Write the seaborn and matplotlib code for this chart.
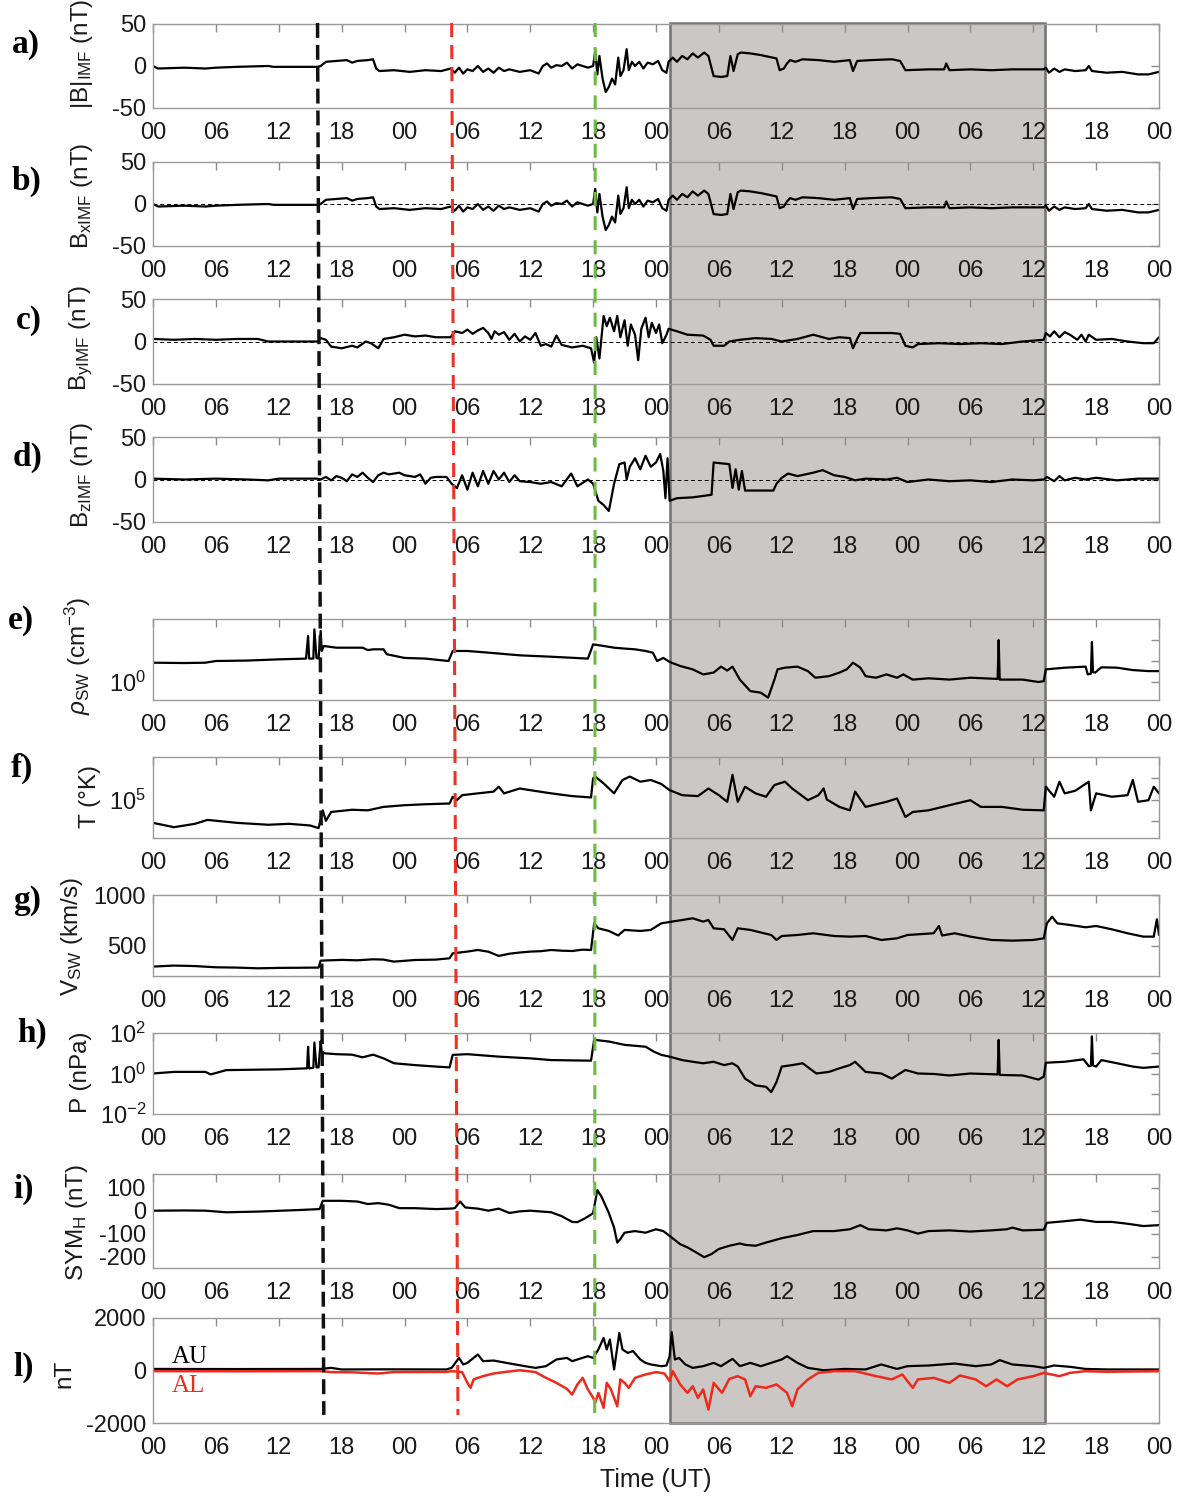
import numpy as np
import pandas as pd
import matplotlib
matplotlib.use("Agg")
import matplotlib.pyplot as plt
from matplotlib.patches import Rectangle
from matplotlib.lines import Line2D
from matplotlib.transforms import blended_transform_factory
from matplotlib.ticker import LogLocator, NullFormatter, NullLocator
import seaborn as sns

# time axis: hours from 00 UT of the first day (4 days shown)
hour_ticks = list(range(0, 97, 6))
hour_labels = ['00', '06', '12', '18'] * 4 + ['00']

# event markers (top / bottom of the dashed line, hours) and shaded interval
event_top_h = [15.7, 28.5, 42.2]
event_bottom_h = [16.3, 29.1, 42.15]
event_colors = ['#111111', '#ee3224', '#6cbd3f']
shade_start_h, shade_end_h = 49.3, 85.1

# (hour, nT) -- IMF Bx (also shown in panel a)
bx_imf = [(0, 0), (0.5, -3), (3, -2), (5, -3), (6, -2), (8, -1), (11, 0), (11.5, -1), (15.7, -1), (16, 0),
          (16.5, 5), (17.5, 6), (18.5, 7), (19, 4), (19.5, 6), (20.5, 7), (21, 8), (21.3, -3), (21.6, -6),
          (23, -5), (24.5, -7), (26, -5), (27.5, -6), (28.4, -3), (28.8, -8), (29.2, -2), (29.6, -9), (30, -4),
          (30.5, -6), (31, 0), (31.5, -7), (32, -3), (32.5, -8), (33, -2), (33.5, -6), (34, -4), (35, -7),
          (36, -5), (36.8, -9), (37.2, 0), (37.6, 3), (38, -2), (38.5, 1), (39, 0), (39.5, 4), (40, -3),
          (40.5, 2), (41, 0), (41.5, -2), (42, 0), (42.2, 18), (42.4, -10), (42.6, 12), (42.9, -15),
          (43.2, -31), (43.5, -25), (43.8, -15), (44.1, -22), (44.4, 10), (44.6, -12), (44.9, -5), (45.2, 20),
          (45.4, -5), (45.7, 5), (46, 0), (46.4, 5), (46.8, -3), (47.2, 4), (47.7, 2), (48.2, 6), (48.6, -5),
          (49, -8), (49.2, 5), (49.6, 10), (50, 5), (50.5, 12), (51, 8), (51.5, 15), (52, 10), (52.6, 16),
          (53, 12), (53.5, -12), (54.2, -13), (54.8, -12), (55.1, 12), (55.4, -6), (55.8, 14), (56.1, 16),
          (57, 15), (58, 13), (59.5, 9), (59.8, -5), (60.2, -3), (60.5, 3), (60.8, 7), (61.3, 5), (62, 8),
          (63.5, 7), (65, 5), (66.5, 7), (66.8, -6), (67.2, 6), (68.5, 7), (70.5, 8), (71.3, 6), (71.8, -5),
          (74, -4), (75.5, -4), (75.7, 3), (76, -5), (78, -4), (80, -5), (82, -4), (85, -4), (85.2, -2),
          (85.5, -8), (86, -3), (86.5, -7), (87, -4), (88, -6), (89, -5), (89.3, 0), (89.6, -6), (91, -8),
          (92.5, -7), (94, -10), (95, -10), (96, -7)]

# (hour, nT) -- IMF By
by_imf = [(0, 3), (2, 2), (4, 3), (6, 2), (8, 3), (10, 3), (11, 0), (13, 0), (15.7, 0), (16, 4), (16.5, 2),
          (17, -6), (18, -8), (19, -5), (19.5, -7), (20.3, 0), (20.8, -2), (21.5, -8), (22, 3), (23, 5),
          (24, 8), (25, 6), (26, 7), (27, 5), (28.4, 5), (28.8, 12), (29.5, 10), (30, 14), (30.5, 9), (31, 13),
          (31.5, 16), (32, 10), (32.3, 3), (32.6, 12), (33, 8), (33.5, 11), (34, 2), (34.5, 9), (35, 0),
          (35.5, 6), (36, 2), (36.5, 10), (37, -5), (37.5, -3), (38, -6), (38.5, 7), (39, -4), (40, -7),
          (41, -5), (41.8, -8), (42.1, -25), (42.3, 5), (42.6, -20), (43, 30), (43.3, 18), (43.6, 28),
          (44, 12), (44.3, 30), (44.6, 5), (45, 25), (45.3, -5), (45.6, 20), (46, 8), (46.3, -22), (46.6, 15),
          (47, 28), (47.3, 5), (47.6, 22), (48, 10), (48.3, 20), (48.6, -2), (49, 8), (49.2, 15), (50, 12),
          (51, 8), (52.5, 7), (53.2, 2), (53.5, -5), (54.5, -5), (55, 0), (56, 2), (57.5, 4), (59, 3),
          (60, 0), (61.5, 3), (63, 8), (64.5, 3), (65.5, 5), (66.5, 4), (66.8, -8), (67.2, 3), (67.5, 10),
          (69, 10), (70.5, 10), (71.3, 9), (71.8, -5), (72.5, -7), (73, -3), (75, -2), (77, -3), (79, -2),
          (81, -3), (83, 0), (85, 2), (85.2, 10), (85.6, 6), (86, 12), (86.5, 5), (87, 11), (87.5, 8),
          (88.2, 2), (88.6, 8), (89, 0), (89.3, 8), (90, 2), (91.5, 3), (93, 0), (94.5, -2), (95.5, -2),
          (96, 5)]

# (hour, nT) -- IMF Bz
bz_imf = [(0, 1), (3, 0), (6, 1), (9, 0), (11, -1), (12, 1), (15.7, 1), (16, 0), (16.5, 3), (17, -1),
          (17.5, 4), (18, 2), (18.5, -2), (19, 6), (19.5, 3), (20, 8), (20.5, 2), (21, -3), (21.5, 5), (22, 8),
          (22.5, 6), (23.5, 8), (24, 5), (25, 3), (25.5, 6), (26, -5), (26.5, 2), (27, 3), (28, 3),
          (28.5, -5), (29, -10), (29.5, 5), (30, -12), (30.5, 8), (31, -8), (31.5, 10), (32, -5), (32.5, 10),
          (33, 0), (33.5, 8), (34, -3), (34.5, 5), (35, -2), (36, -3), (37, -5), (38, -3), (39, -8),
          (39.9, 7), (40.5, -8), (41.5, 0), (42, -5), (42.5, -25), (43, -30), (43.5, -37), (44, -5),
          (44.5, 18), (45, 20), (45.2, 0), (45.5, 15), (46, 25), (46.5, 12), (47, 28), (47.5, 15), (48, 20),
          (48.4, 30), (48.7, 10), (48.9, -22), (49.1, 25), (49.3, -25), (50, -22), (51.5, -21), (53.3, -18),
          (53.5, 20), (55, 18), (55.3, -10), (55.6, 12), (55.9, -12), (56.2, 10), (56.5, -13), (59.2, -13),
          (59.5, -5), (60, 2), (60.6, 7), (61.5, 4), (63, 8), (63.9, 11), (65, 5), (66, 3), (67, -1),
          (68, 1), (70, 0), (71, 2), (72, -3), (74, 0), (76, -2), (78, -1), (80, -3), (82, 0), (84, -1),
          (85, 0), (85.3, 3), (86, -2), (86.5, 4), (87, -1), (88, 2), (89, 0), (90, 2), (92, -1), (94, 1),
          (96, 1)]

# (hour, cm^-3) -- solar wind density
rho_sw = [(0, 8.3), (3, 8), (5, 8.3), (6, 10), (9, 10.5), (12, 12), (14.6, 13), (14.8, 155), (14.9, 13),
          (15.3, 13), (15.4, 320), (15.6, 14), (15.8, 13), (16, 270), (16.1, 30), (16.3, 52), (17.5, 43),
          (18.5, 43), (20, 43), (20.5, 33), (21, 36), (22, 36), (22.3, 21), (24, 14), (26, 13), (28.2, 10),
          (28.6, 30), (30, 30), (32, 25), (35, 18.6), (38, 16), (41.5, 13), (42, 62), (43, 52), (44, 43),
          (45, 39), (46, 36), (47, 30), (47.7, 25), (48.1, 10), (48.7, 14), (49.3, 9), (50.3, 5.8), (51.5, 4),
          (52.5, 2.3), (53.5, 2.8), (54.2, 5.4), (54.8, 3.5), (55.3, 5.4), (56, 1.3), (57, 0.37), (58, 0.31),
          (58.7, 0.18), (59.3, 1.3), (59.6, 4), (60.3, 4.8), (61.5, 5.4), (62.5, 3.3), (63.2, 1.6),
          (64.5, 1.9), (65.5, 2.8), (66.2, 4), (66.8, 8.3), (67.5, 4.8), (68, 1.9), (69, 1.6), (70, 2.3),
          (71, 1.6), (71.6, 2.3), (72.5, 1.3), (74, 1.5), (76, 1.3), (78, 1.6), (80.6, 1.4), (80.7, 100),
          (80.8, 1.3), (83, 1.3), (84.5, 1.0), (85, 1.1), (85.2, 4), (87, 4.8), (89, 5.4), (89.2, 2.3),
          (89.5, 2.5), (89.6, 80), (89.7, 3), (89.9, 2.8), (90.5, 5), (92, 4.8), (93.5, 3.7), (95, 3.3),
          (96, 3.3)]

# (hour, K) -- proton temperature
temp_k = [(0, 8000), (2, 5000), (4, 7200), (5.2, 11000), (8, 8000), (11, 6500), (13, 7200), (15, 6000),
          (15.8, 4500), (16.2, 31000), (16.5, 10000), (17, 26000), (19, 33000), (20.5, 31000), (22, 45000),
          (24, 54000), (26, 60000), (28.3, 65000), (28.6, 135000), (29, 93000), (29.5, 160000),
          (31, 195000), (32.5, 235000), (33, 400000), (33.5, 195000), (35, 330000), (36, 275000),
          (38, 195000), (40, 145000), (41.8, 125000), (42, 1.0e6), (42.2, 1.2e6), (43, 575000),
          (44, 195000), (44.8, 830000), (45.5, 1.2e6), (46.5, 690000), (47.5, 830000), (48.5, 540000),
          (49.3, 275000), (50.5, 160000), (52, 145000), (53, 330000), (54, 160000), (54.8, 78000),
          (55.3, 1.45e6), (55.8, 78000), (56.5, 400000), (57.5, 195000), (58.5, 135000), (59.3, 480000),
          (60.3, 690000), (61, 330000), (62.5, 93000), (63.5, 160000), (64, 330000), (64.3, 100000),
          (65.5, 45000), (66.5, 31000), (67, 235000), (68, 45000), (70, 78000), (71, 112000), (71.8, 15000),
          (72.5, 26000), (74, 31000), (76, 54000), (78, 93000), (79, 45000), (81, 45000), (83, 33000),
          (85, 31000), (85.2, 400000), (86, 135000), (86.5, 690000), (87, 195000), (88, 257000),
          (89.3, 690000), (89.5, 31000), (90, 195000), (91.5, 135000), (93, 160000), (93.5, 830000),
          (94, 78000), (95, 93000), (95.5, 400000), (96, 195000)]

# (hour, km/s) -- solar wind speed
v_sw = [(0, 293), (2, 303), (4, 298), (6, 286), (8, 283), (10, 276), (12, 280), (15.8, 283), (16, 352),
        (18, 359), (19.5, 355), (21, 365), (22, 362), (23, 342), (24, 350), (25, 358), (27, 362),
        (28.3, 375), (28.6, 424), (30, 441), (31, 457), (32, 440), (33, 398), (34, 420), (35, 432),
        (36, 441), (37, 445), (38, 457), (39, 450), (40, 447), (41, 460), (41.8, 457), (42.1, 720),
        (42.5, 671), (43.5, 645), (44.4, 600), (44.6, 620), (45, 655), (46.5, 645), (47.5, 655),
        (48.5, 720), (49.5, 737), (50.5, 753), (51.5, 770), (52.5, 737), (53, 753), (53.5, 671),
        (54.5, 661), (55.3, 556), (55.8, 671), (57, 655), (59, 605), (59.5, 556), (60, 595), (61.5, 605),
        (63, 622), (65, 595), (66.5, 589), (68, 595), (69.5, 556), (71, 572), (72, 605), (74.5, 622),
        (75, 694), (75.3, 600), (76.5, 622), (78, 589), (79, 572), (80, 556), (82, 549), (84, 556),
        (85, 572), (85.3, 720), (85.8, 786), (86.3, 720), (87.5, 704), (89, 681), (90, 694), (91.5, 661),
        (93, 622), (94.5, 589), (95.5, 589), (95.8, 760), (96, 605)]

# (hour, nPa) -- dynamic pressure
p_dyn = [(0, 1.0), (2, 1.2), (5, 1.2), (5.5, 0.9), (7, 1.47), (12, 1.6), (14.7, 1.8), (14.8, 21),
         (14.9, 1.8), (15.3, 1.9), (15.4, 34), (15.6, 2.0), (15.8, 2.0), (16.0, 40), (16.1, 12), (16.3, 10),
         (17.5, 9), (19, 8.5), (20, 6.3), (21, 8.5), (22, 5.6), (23, 3.2), (25, 2.6), (27, 2.2), (28.3, 2.0),
         (28.6, 8.3), (30, 9), (33, 6.8), (36, 5.6), (38, 4.6), (41.8, 4.3), (42.1, 46), (43.5, 38),
         (45, 26), (47, 21), (47.8, 12), (48.5, 8.3), (49.3, 6.8), (50.5, 4.6), (51.5, 3.8), (52.5, 3.2),
         (53.5, 3.8), (54.5, 2.6), (55.3, 3.2), (55.8, 2.2), (56.5, 0.56), (57.5, 0.26), (58.5, 0.22),
         (59, 0.12), (59.5, 0.38), (60, 2.2), (61, 2.6), (62, 3.2), (63.3, 1.0), (64.5, 1.2), (65.5, 1.8),
         (66.5, 2.6), (67, 3.8), (68, 1.2), (69.5, 1.0), (70.5, 0.56), (71.8, 1.5), (73, 1.0), (74.5, 0.95),
         (76, 0.8), (78, 1.0), (80.6, 0.9), (80.7, 46), (80.8, 0.85), (83, 0.8), (84.5, 0.5), (85, 0.7),
         (85.2, 3.4), (87, 3.8), (88.8, 5), (89.3, 2.3), (89.5, 2.4), (89.6, 68), (89.7, 2.5), (90, 2.2),
         (90.5, 4.6), (92, 3.2), (93.5, 2.2), (94.5, 1.9), (96, 2.2)]

# (hour, nT) -- SYM-H
sym_h = [(0, 0), (3, 1), (5, 0), (7, -7), (10, -4), (14, 3), (15.9, 7), (16.2, 43), (18, 43), (19.5, 40),
         (20.5, 29), (21.5, 33), (22.5, 26), (23.5, 11), (25, 11), (27, 7), (28.4, 9), (28.8, 11),
         (29.3, 40), (29.8, 14), (31, 9), (32, 0), (33, 9), (34, -10), (35, -3), (36, 0), (38, -7),
         (39, -24), (40, -49), (40.5, -50), (41.2, -34), (41.8, -17), (42, -10), (42.4, 90), (42.8, 61),
         (43.5, -10), (44, -74), (44.3, -139), (44.6, -124), (45, -96), (46, -89), (47, -96), (48, -81),
         (48.7, -89), (49.3, -110), (50.3, -146), (51, -160), (51.8, -181), (52.6, -203), (53.3, -189),
         (54, -167), (55, -153), (56, -143), (56.5, -149), (57.5, -153), (58.5, -139), (60, -120),
         (61.5, -106), (63, -89), (65, -89), (66.5, -81), (67.5, -63), (68.3, -81), (70, -86), (71, -77),
         (72, -86), (73, -100), (74, -89), (76, -86), (78, -91), (80, -86), (81.5, -81), (82, -74),
         (83, -86), (85, -83), (85.3, -53), (87, -46), (88.5, -39), (90, -49), (91.5, -49), (93, -57),
         (94.5, -67), (96, -63)]

# (hour, nT) -- AU and AL indices
au_index = [(0, 60), (8, 55), (16, 60), (17, 100), (18, 40), (22, 45), (28, 40), (28.5, 100), (29.2, 480),
            (29.6, 230), (30, 290), (31, 610), (31.5, 355), (32.5, 380), (34, 270), (35.5, 165), (36.5, 100),
            (37.5, 165), (38.5, 420), (39.5, 480), (40, 355), (40.5, 420), (41.5, 545), (42, 480),
            (42.5, 800), (43, 1240), (43.3, 800), (43.6, 1180), (44, 40), (44.5, 1430), (44.8, 800),
            (45.3, 670), (45.8, 740), (46.5, 420), (47, 290), (47.5, 230), (48.5, 165), (49, 190),
            (49.3, 545), (49.5, 1460), (49.8, 420), (50.2, 480), (50.8, 230), (51.5, 100), (52.5, 165),
            (53.5, 290), (54.2, 165), (55.3, 445), (56, 165), (57, 290), (58, 165), (60, 420), (60.5, 545),
            (61.5, 290), (62.5, 100), (64, 10), (66, 60), (68, 40), (69.5, 230), (71, 60), (72, 165),
            (74, 190), (76.5, 265), (78.5, 165), (80, 230), (80.8, 395), (82, 230), (84, 165), (85, 100),
            (86, 190), (87.5, 140), (89, 60), (91, 40), (96, 40)]
al_index = [(0, -25), (8, -30), (16, -25), (17, -60), (19, -70), (21.5, -115), (23, -60), (28, -55),
            (28.5, -25), (29.5, -60), (30, -470), (30.3, -660), (30.6, -340), (31.5, -215), (32.5, -115),
            (33.5, -60), (35, 10), (36.5, -60), (37.5, -280), (38.5, -470), (39.5, -700), (40, -915),
            (40.5, -530), (41, -280), (41.5, -720), (42, -1040), (42.2, -1230), (42.5, -850), (43, -1420),
            (43.3, -470), (43.7, -720), (44.3, -1360), (44.6, -340), (45, -470), (45.4, -660), (46, -280),
            (47, -150), (48, -60), (48.8, -115), (49.3, -400), (49.6, -25), (50.3, -530), (51, -850),
            (51.5, -600), (52, -1040), (52.5, -720), (53, -1490), (53.5, -470), (54.3, -850), (55, -320),
            (55.8, -215), (56.5, -340), (57, -980), (57.5, -600), (58.5, -660), (59.5, -530), (60.5, -850),
            (61, -1360), (61.5, -720), (62.5, -340), (63.5, -90), (65, -25), (67, -25), (69, -215),
            (70.5, -340), (71.5, -150), (72.5, -660), (73, -340), (74.5, -280), (76, -470), (77, -190),
            (78.5, -340), (79.5, -600), (80.5, -340), (81.5, -600), (82.5, -340), (84, -215), (85, -90),
            (86.5, -215), (87.5, -90), (89, -25), (91, -50), (96, -25)]


sns.set_style("white")
plt.rcParams['font.family'] = ['Liberation Sans', 'DejaVu Sans']
plt.rcParams['mathtext.fontset'] = 'custom'
plt.rcParams['mathtext.rm'] = 'Liberation Sans'
plt.rcParams['mathtext.it'] = 'Liberation Sans:italic'
plt.rcParams['mathtext.default'] = 'regular'
plt.rcParams['axes.unicode_minus'] = False

W, H = 1184, 1499
fig = plt.figure(figsize=(W / 100, H / 100), dpi=100)

# panel boxes (top, bottom) in pixels
panel_px = [(24, 108), (162, 246), (299, 384), (437, 522), (619, 700), (757, 838),
            (895, 976), (1033, 1114), (1174, 1268), (1318, 1423)]
x0_px, x1_px = 153, 1159

axes = []
for top, bot in panel_px:
    ax = fig.add_axes([x0_px / W, 1 - bot / H, (x1_px - x0_px) / W, (bot - top) / H])
    ax.set_facecolor('none')
    axes.append(ax)


def draw(ax, pts, color='black', lw=1.6):
    df = pd.DataFrame(pts, columns=['t', 'v'])
    sns.lineplot(data=df, x='t', y='v', ax=ax, color=color, lw=lw, estimator=None, sort=False)


# panels a-d
for ax, pts in zip(axes[:4], [bx_imf, bx_imf, by_imf, bz_imf]):
    draw(ax, pts)
    ax.set_ylim(-50, 50)
    ax.set_yticks([-50, 0, 50])
for ax in axes[1:4]:
    ax.axhline(0, color='black', lw=0.7, ls=(0, (4, 3)), zorder=1)

# e) density
draw(axes[4], rho_sw)
axes[4].set_yscale('log')
axes[4].set_ylim(0.139, 1000)
axes[4].set_yticks([1, 10, 100])
axes[4].set_yticklabels([r'$10^0$', '', ''])
axes[4].yaxis.set_minor_locator(NullLocator())

# f) temperature
draw(axes[5], temp_k)
axes[5].set_yscale('log')
axes[5].set_ylim(1550, 1e7)
axes[5].set_yticks([1e4, 1e5, 1e6])
axes[5].set_yticklabels(['', r'$10^5$', ''])
axes[5].yaxis.set_minor_locator(NullLocator())

# g) speed
draw(axes[6], v_sw)
axes[6].set_ylim(200, 1000)
axes[6].set_yticks([500, 1000])

# h) pressure
draw(axes[7], p_dyn)
axes[7].set_yscale('log')
axes[7].set_ylim(0.01, 100)
axes[7].set_yticks([0.01, 0.1, 1, 10, 100])
axes[7].set_yticklabels([r'$10^{-2}$', '', r'$10^0$', '', r'$10^2$'])
axes[7].yaxis.set_minor_locator(LogLocator(base=10, subs=np.arange(2, 10)))
axes[7].yaxis.set_minor_formatter(NullFormatter())

# i) SYM-H
draw(axes[8], sym_h)
axes[8].set_ylim(-250, 160)
axes[8].set_yticks([-200, -100, 0, 100])

# l) AU / AL
draw(axes[9], au_index, color='black', lw=1.6)
draw(axes[9], al_index, color='#ee2a1c', lw=1.8)
axes[9].set_ylim(-2000, 2000)
axes[9].set_yticks([-2000, 0, 2000])
axes[9].text(1.8, 520, 'AU', family='Liberation Serif', fontsize=18, color='black', va='center')
axes[9].text(1.8, -590, 'AL', family='Liberation Serif', fontsize=18, color='#ee2a1c', va='center')

# labels: letter, y label, label x (axes frac, right edge), label y (axes frac), letter x/y px
panel_specs = [
    ('a)', r'$|B|_{IMF}$ (nT)', -0.058, 0.64, 12, 44),
    ('b)', r'$B_{xIMF}$ (nT)', -0.058, 0.60, 12, 181),
    ('c)', r'$B_{yIMF}$ (nT)', -0.058, 0.54, 16, 320),
    ('d)', r'$B_{zIMF}$ (nT)', -0.058, 0.55, 13, 457),
    ('e)', r'$\mathit{\rho}_{SW}$ (cm$^{-3}$)', -0.060, 0.54, 8, 621),
    ('f)', 'T (°K)', -0.052, 0.51, 11, 768),
    ('g)', r'$V_{SW}$ (km/s)', -0.068, 0.49, 13, 900),
    ('h)', 'P (nPa)', -0.061, 0.51, 17, 1033),
    ('i)', r'$SYM_H$ (nT)', -0.063, 0.49, 13, 1189),
    ('l)', 'nT', -0.077, 0.47, 13, 1367),
]

for ax, (letter, ylab, lx, ly, px, py) in zip(axes, panel_specs):
    ax.set_xlim(0, 96)
    ax.set_xticks(hour_ticks)
    ax.set_xticklabels(hour_labels)
    ax.set_xlabel('')
    ax.set_ylabel(ylab, fontsize=17.5, color='#1a1a1a')
    ax.yaxis.set_label_coords(lx, ly)
    ax.tick_params(axis='both', which='major', direction='in', top=True, right=True,
                   length=6, width=1, color='#8c8c8c', labelsize=17, labelcolor='#1a1a1a')
    ax.tick_params(axis='x', pad=10)
    ax.tick_params(axis='y', pad=5)
    ax.tick_params(axis='y', which='minor', direction='in', left=True, right=True,
                   length=3, width=0.6, color='#8c8c8c')
    for sp in ax.spines.values():
        sp.set_color('#9a9a9a')
        sp.set_linewidth(1.0)
    fig.text(px / W, 1 - py / H, letter, family='Liberation Serif', fontweight='bold',
             fontsize=24, ha='left', va='center', color='black')

fig.text(656 / W, 1 - 1480 / H, 'Time (UT)', ha='center', va='center', fontsize=18, color='#1a1a1a')

# shaded interval and event lines across all panels
trans = blended_transform_factory(axes[0].transData, fig.transFigure)
top_frac = 1 - 23 / H
bot_frac = 1 - 1423 / H
fig.add_artist(Rectangle((shade_start_h, bot_frac), shade_end_h - shade_start_h, top_frac - bot_frac,
                         transform=trans, facecolor='#cbc7c5', edgecolor='#747070', lw=1.8, zorder=-5))

line_end_frac = 1 - 1415 / H
dash_styles = [(0, (4.3, 2.0)), (0, (4.6, 2.6)), (0, (4.6, 3.3))]
line_widths = [2.5, 2.2, 2.2]
for t0, t1, col, ds, lw in zip(event_top_h, event_bottom_h, event_colors, dash_styles, line_widths):
    fig.add_artist(Line2D([t0, t1], [top_frac, line_end_frac], transform=trans, color=col,
                          lw=lw, ls=ds, zorder=5))

fig.savefig('out.png', dpi=100)
